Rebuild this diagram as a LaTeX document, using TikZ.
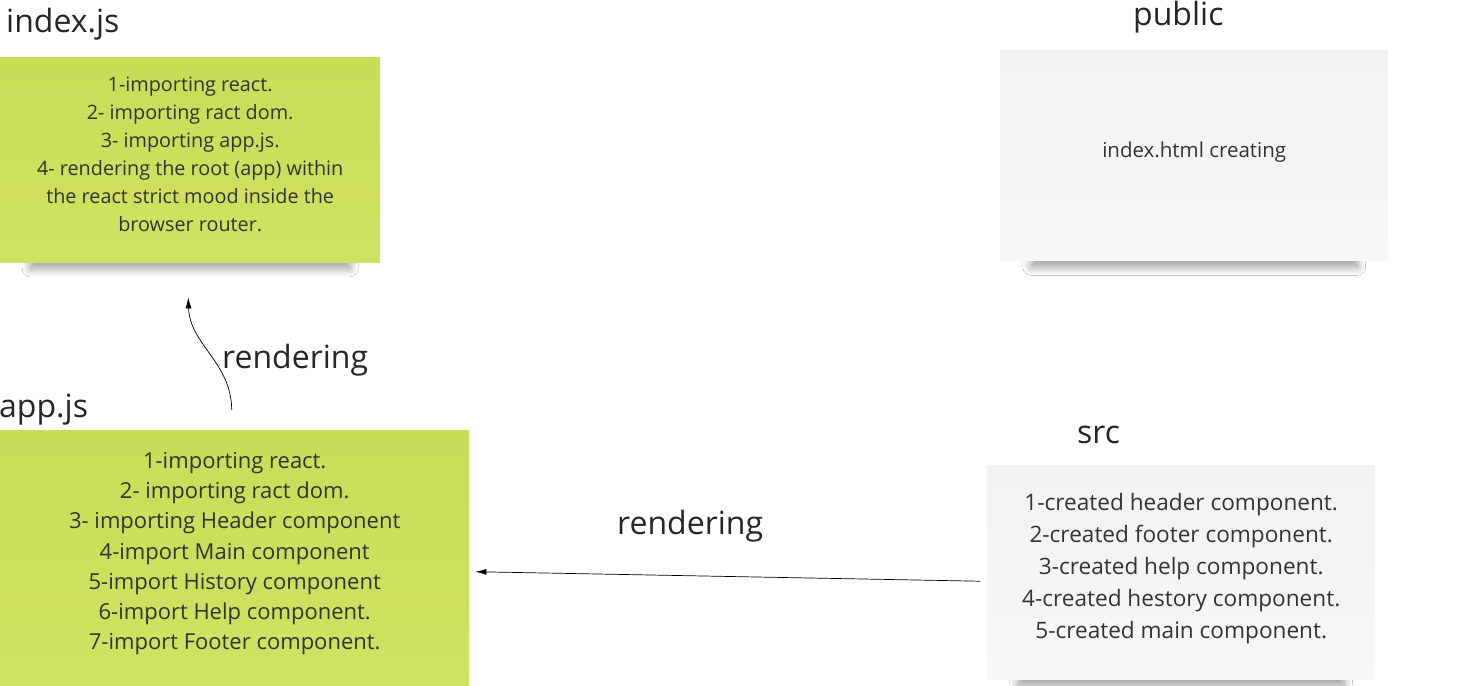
\documentclass[tikz,border=0pt]{standalone}
\usepackage{fontspec}
\setmainfont{Open Sans}
\usetikzlibrary{arrows.meta,shadows.blur}

\definecolor{notegreen}{HTML}{C9DD57}
\definecolor{notegreenlt}{HTML}{D0E262}
\definecolor{notegray}{HTML}{F1F2F4}
\definecolor{notegraylt}{HTML}{F6F7F9}
\definecolor{inktext}{HTML}{333333}

\tikzset{
	note/.style={anchor=north west,inner sep=0pt,
		blur shadow={shadow xshift=0pt,shadow yshift=-#1,shadow scale=0.84,shadow opacity=40,
			shadow blur radius=10pt,shadow blur steps=16}},
	greennote/.style={note=#1,top color=notegreen,bottom color=notegreenlt},
	graynote/.style={note=#1,top color=notegray,bottom color=notegraylt},
	notetext/.style={inner sep=0pt,align=center,text=inktext},
	notetitle/.style={anchor=base west,inner sep=0pt,text=black!85,font=\fontsize{32}{38}\selectfont},
	flow/.style={-{Latex[length=11pt,width=6pt]},line width=0.7pt}
}

\begin{document}
\begin{tikzpicture}[x=1pt,y=-1pt]
	\useasboundingbox[fill=white] (0,0) rectangle (1463,685);

	% notes
	\node[greennote=27pt,minimum width=380pt,minimum height=205pt] (indexnote) at (0,57) {};
	\node[graynote=28pt,minimum width=388pt,minimum height=210pt] (publicnote) at (1000,50) {};
	\node[greennote=31pt,minimum width=469pt,minimum height=255pt] (appnote) at (0,430) {};
	\node[graynote=28pt,minimum width=388pt,minimum height=214pt] (srcnote) at (987,465) {};

	\node[notetext,font=\fontsize{19.8}{28}\selectfont] (indextext) at ([yshift=5pt]indexnote.center)
		{1-importing react.\\2- importing ract dom.\\3- importing app.js.\\4- rendering the root (app) within\\the react strict mood inside the\\browser router.};
	\node[notetext,font=\fontsize{20.5}{28}\selectfont] (publictext) at ([yshift=3pt]publicnote.center)
		{index.html creating};
	\node[notetext,font=\fontsize{22}{30.2}\selectfont] (apptext) at ([yshift=4pt]appnote.center)
		{1-importing react.\\2- importing ract dom.\\3- importing Header component\\4-import Main component\\5-import History component\\6-import Help component.\\7-import Footer component.};
	\node[notetext,font=\fontsize{22.6}{32}\selectfont] (srctext) at ([yshift=4pt]srcnote.center)
		{1-created header component.\\2-created footer component.\\3-created help component.\\4-created hestory component.\\5-created main component.};

	% titles
	\node[notetitle] (indextitle) at (6,33) {index.js};
	\node[notetitle] (publictitle) at (1133,26) {public};
	\node[notetitle] (apptitle) at (-1,417) {app.js};
	\node[notetitle] (srctitle) at (1077,443) {src};

	% connectors
	\coordinate (upstart) at ([xshift=-3pt,yshift=20pt]appnote.north);
	\coordinate (upend) at ([xshift=-2pt,yshift=-35pt]indexnote.south);
	\draw[flow] (upstart) to[out=90,in=-88] (upend);
	\node[notetitle] (uplabel) at (222,368) {rendering};

	\coordinate (leftstart) at ([xshift=-7pt,yshift=-9pt]srcnote.west);
	\coordinate (leftend) at ([xshift=6pt,yshift=-14pt]appnote.east);
	\draw[flow] (leftstart) -- (leftend);
	\node[notetitle] (leftlabel) at (617,534) {rendering};
\end{tikzpicture}
\end{document}
